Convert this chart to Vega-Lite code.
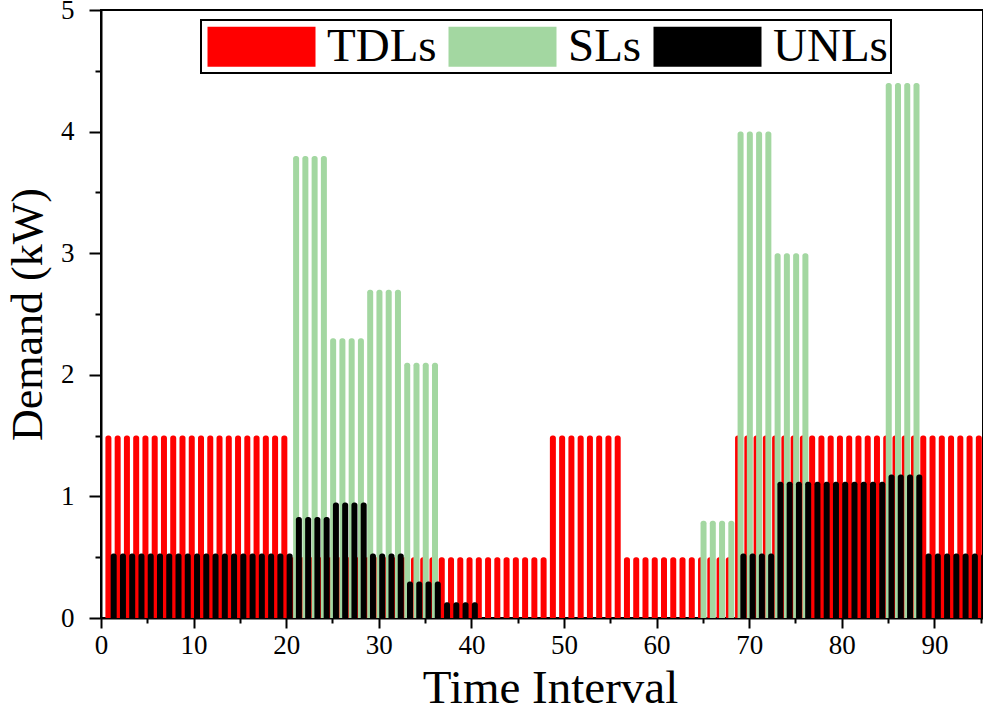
{
  "$schema": "https://vega.github.io/schema/vega-lite/v6.json",
  "width": 882,
  "height": 608,
  "autosize": {"type": "none"},
  "padding": {"left": 101, "top": 10, "right": 0, "bottom": 94},
  "background": "white",
  "config": {
    "view": {"stroke": "black", "strokeWidth": 2},
    "font": "Liberation Serif",
    "axis": {"grid": false},
    "legend": {"strokeWidth": 2}
  },
  "data": {"values": [
    {"t":1,"TDLs":1.5,"SLs":0,"UNLs":0.53},{"t":2,"TDLs":1.5,"SLs":0,"UNLs":0.53},{"t":3,"TDLs":1.5,"SLs":0,"UNLs":0.53},{"t":4,"TDLs":1.5,"SLs":0,"UNLs":0.53},
    {"t":5,"TDLs":1.5,"SLs":0,"UNLs":0.53},{"t":6,"TDLs":1.5,"SLs":0,"UNLs":0.53},{"t":7,"TDLs":1.5,"SLs":0,"UNLs":0.53},{"t":8,"TDLs":1.5,"SLs":0,"UNLs":0.53},
    {"t":9,"TDLs":1.5,"SLs":0,"UNLs":0.53},{"t":10,"TDLs":1.5,"SLs":0,"UNLs":0.53},{"t":11,"TDLs":1.5,"SLs":0,"UNLs":0.53},{"t":12,"TDLs":1.5,"SLs":0,"UNLs":0.53},
    {"t":13,"TDLs":1.5,"SLs":0,"UNLs":0.53},{"t":14,"TDLs":1.5,"SLs":0,"UNLs":0.53},{"t":15,"TDLs":1.5,"SLs":0,"UNLs":0.53},{"t":16,"TDLs":1.5,"SLs":0,"UNLs":0.53},
    {"t":17,"TDLs":1.5,"SLs":0,"UNLs":0.53},{"t":18,"TDLs":1.5,"SLs":0,"UNLs":0.53},{"t":19,"TDLs":1.5,"SLs":0,"UNLs":0.53},{"t":20,"TDLs":1.5,"SLs":0,"UNLs":0.53},
    {"t":21,"TDLs":0.5,"SLs":3.8,"UNLs":0.83},{"t":22,"TDLs":0.5,"SLs":3.8,"UNLs":0.83},{"t":23,"TDLs":0.5,"SLs":3.8,"UNLs":0.83},{"t":24,"TDLs":0.5,"SLs":3.8,"UNLs":0.83},
    {"t":25,"TDLs":0.5,"SLs":2.3,"UNLs":0.95},{"t":26,"TDLs":0.5,"SLs":2.3,"UNLs":0.95},{"t":27,"TDLs":0.5,"SLs":2.3,"UNLs":0.95},{"t":28,"TDLs":0.5,"SLs":2.3,"UNLs":0.95},
    {"t":29,"TDLs":0.5,"SLs":2.7,"UNLs":0.53},{"t":30,"TDLs":0.5,"SLs":2.7,"UNLs":0.53},{"t":31,"TDLs":0.5,"SLs":2.7,"UNLs":0.53},{"t":32,"TDLs":0.5,"SLs":2.7,"UNLs":0.53},
    {"t":33,"TDLs":0.5,"SLs":2.1,"UNLs":0.3},{"t":34,"TDLs":0.5,"SLs":2.1,"UNLs":0.3},{"t":35,"TDLs":0.5,"SLs":2.1,"UNLs":0.3},{"t":36,"TDLs":0.5,"SLs":2.1,"UNLs":0.3},
    {"t":37,"TDLs":0.5,"SLs":0,"UNLs":0.13},{"t":38,"TDLs":0.5,"SLs":0,"UNLs":0.13},{"t":39,"TDLs":0.5,"SLs":0,"UNLs":0.13},{"t":40,"TDLs":0.5,"SLs":0,"UNLs":0.13},
    {"t":41,"TDLs":0.5,"SLs":0,"UNLs":0},{"t":42,"TDLs":0.5,"SLs":0,"UNLs":0},{"t":43,"TDLs":0.5,"SLs":0,"UNLs":0},{"t":44,"TDLs":0.5,"SLs":0,"UNLs":0},
    {"t":45,"TDLs":0.5,"SLs":0,"UNLs":0},{"t":46,"TDLs":0.5,"SLs":0,"UNLs":0},{"t":47,"TDLs":0.5,"SLs":0,"UNLs":0},{"t":48,"TDLs":0.5,"SLs":0,"UNLs":0},
    {"t":49,"TDLs":1.5,"SLs":0,"UNLs":0},{"t":50,"TDLs":1.5,"SLs":0,"UNLs":0},{"t":51,"TDLs":1.5,"SLs":0,"UNLs":0},{"t":52,"TDLs":1.5,"SLs":0,"UNLs":0},
    {"t":53,"TDLs":1.5,"SLs":0,"UNLs":0},{"t":54,"TDLs":1.5,"SLs":0,"UNLs":0},{"t":55,"TDLs":1.5,"SLs":0,"UNLs":0},{"t":56,"TDLs":1.5,"SLs":0,"UNLs":0},
    {"t":57,"TDLs":0.5,"SLs":0,"UNLs":0},{"t":58,"TDLs":0.5,"SLs":0,"UNLs":0},{"t":59,"TDLs":0.5,"SLs":0,"UNLs":0},{"t":60,"TDLs":0.5,"SLs":0,"UNLs":0},
    {"t":61,"TDLs":0.5,"SLs":0,"UNLs":0},{"t":62,"TDLs":0.5,"SLs":0,"UNLs":0},{"t":63,"TDLs":0.5,"SLs":0,"UNLs":0},{"t":64,"TDLs":0.5,"SLs":0,"UNLs":0},
    {"t":65,"TDLs":0.5,"SLs":0.8,"UNLs":0},{"t":66,"TDLs":0.5,"SLs":0.8,"UNLs":0},{"t":67,"TDLs":0.5,"SLs":0.8,"UNLs":0},{"t":68,"TDLs":0.5,"SLs":0.8,"UNLs":0},
    {"t":69,"TDLs":1.5,"SLs":4.0,"UNLs":0.53},{"t":70,"TDLs":1.5,"SLs":4.0,"UNLs":0.53},{"t":71,"TDLs":1.5,"SLs":4.0,"UNLs":0.53},{"t":72,"TDLs":1.5,"SLs":4.0,"UNLs":0.53},
    {"t":73,"TDLs":1.5,"SLs":3.0,"UNLs":1.12},{"t":74,"TDLs":1.5,"SLs":3.0,"UNLs":1.12},{"t":75,"TDLs":1.5,"SLs":3.0,"UNLs":1.12},{"t":76,"TDLs":1.5,"SLs":3.0,"UNLs":1.12},
    {"t":77,"TDLs":1.5,"SLs":0,"UNLs":1.12},{"t":78,"TDLs":1.5,"SLs":0,"UNLs":1.12},{"t":79,"TDLs":1.5,"SLs":0,"UNLs":1.12},{"t":80,"TDLs":1.5,"SLs":0,"UNLs":1.12},
    {"t":81,"TDLs":1.5,"SLs":0,"UNLs":1.12},{"t":82,"TDLs":1.5,"SLs":0,"UNLs":1.12},{"t":83,"TDLs":1.5,"SLs":0,"UNLs":1.12},{"t":84,"TDLs":1.5,"SLs":0,"UNLs":1.12},
    {"t":85,"TDLs":1.5,"SLs":4.4,"UNLs":1.18},{"t":86,"TDLs":1.5,"SLs":4.4,"UNLs":1.18},{"t":87,"TDLs":1.5,"SLs":4.4,"UNLs":1.18},{"t":88,"TDLs":1.5,"SLs":4.4,"UNLs":1.18},
    {"t":89,"TDLs":1.5,"SLs":0,"UNLs":0.53},{"t":90,"TDLs":1.5,"SLs":0,"UNLs":0.53},{"t":91,"TDLs":1.5,"SLs":0,"UNLs":0.53},{"t":92,"TDLs":1.5,"SLs":0,"UNLs":0.53},
    {"t":93,"TDLs":1.5,"SLs":0,"UNLs":0.53},{"t":94,"TDLs":1.5,"SLs":0,"UNLs":0.53},{"t":95,"TDLs":1.5,"SLs":0,"UNLs":0.53},{"t":96,"TDLs":1.5,"SLs":0,"UNLs":0.53}
  ]},
  "transform": [{"fold": ["TDLs", "SLs", "UNLs"], "as": ["Load", "kW"]}],
  "encoding": {
    "y": {"field": "kW", "type": "quantitative", "stack": null,
      "scale": {"domain": [0, 5], "nice": false, "padding": 0},
      "axis": {
        "title": "Demand (kW)", "titleFont": "Liberation Serif", "titleFontSize": 44, "titleFontWeight": "normal", "titleColor": "black",
        "titleX": -73, "titleY": 304, "titleAngle": -90, "titleAlign": "center", "titleBaseline": "middle",
        "values": [0,0.5,1,1.5,2,2.5,3,3.5,4,4.5,5],
        "labelExpr": "datum.value % 1 === 0 ? format(datum.value, 'd') : ''",
        "labelFont": "Liberation Serif", "labelFontSize": 27, "labelColor": "black", "labelFlush": false, "labelOverlap": false, "labelPadding": 15,
        "domainColor": "black", "domainWidth": 2, "tickColor": "black", "tickWidth": 2,
        "tickSize": {"condition": {"test": "datum.value % 1 === 0", "value": 12}, "value": 6}
      }},
    "color": {"field": "Load", "type": "nominal",
      "scale": {"domain": ["TDLs", "SLs", "UNLs"], "range": ["#FF0000", "#A3D7A1", "#000000"]},
      "legend": {
        "orient": "none", "legendX": 100, "legendY": 10, "direction": "horizontal", "title": null,
        "symbolType": "M-1,-1L4.4,-1L4.4,1L-1,1Z", "symbolSize": 1600, "symbolStrokeWidth": 0, "symbolOpacity": 1,
        "labelFont": "Liberation Serif", "labelFontSize": 47, "labelColor": "black", "labelOffset": 76, "labelLimit": 0,
        "columnPadding": 8, "padding": 3, "strokeColor": "black", "fillColor": "white"
      }}
  },
  "layer": [
    {"transform": [{"filter": "datum.Load === 'TDLs' && datum.kW > 0"}],
     "mark": {"type": "bar", "width": 6, "cornerRadiusTopLeft": 2.5, "cornerRadiusTopRight": 2.5, "clip": true},
     "encoding": {"x": {"field": "t", "type": "quantitative", "scale": {"domain": [0.2, 95.45], "nice": false, "zero": false, "padding": 0}, "axis": null}}},
    {"transform": [{"filter": "datum.Load === 'SLs' && datum.kW > 0"}],
     "mark": {"type": "bar", "width": 6, "cornerRadiusTopLeft": 2.5, "cornerRadiusTopRight": 2.5, "clip": true},
     "encoding": {"x": {"field": "t", "type": "quantitative", "scale": {"domain": [-0.07, 95.18], "nice": false, "zero": false, "padding": 0}, "axis": null}}},
    {"transform": [{"filter": "datum.Load === 'UNLs' && datum.kW > 0"}],
     "mark": {"type": "bar", "width": 6, "cornerRadiusTopLeft": 2.5, "cornerRadiusTopRight": 2.5, "clip": true},
     "encoding": {"x": {"field": "t", "type": "quantitative", "scale": {"domain": [-0.37, 94.88], "nice": false, "zero": false, "padding": 0}, "axis": null}}},
    {"transform": [{"filter": "datum.Load === 'TDLs'"}],
     "mark": {"type": "tick", "opacity": 0},
     "encoding": {
       "color": {"value": "white"},
       "x": {"field": "t", "type": "quantitative",
        "scale": {"domain": [0, 95.25], "nice": false, "zero": false, "padding": 0},
        "axis": {
          "title": "Time Interval", "titleFont": "Liberation Serif", "titleFontSize": 47, "titleFontWeight": "normal", "titleColor": "black",
          "titleX": 449, "titleY": 84, "titleAlign": "center", "titleBaseline": "alphabetic",
          "values": [0,5,10,15,20,25,30,35,40,45,50,55,60,65,70,75,80,85,90,95],
          "labelExpr": "datum.value % 10 === 0 ? format(datum.value, 'd') : ''",
          "labelFont": "Liberation Serif", "labelFontSize": 27, "labelColor": "black", "labelFlush": false, "labelOverlap": false, "labelPadding": 4,
          "domainColor": "black", "domainWidth": 2, "tickColor": "black", "tickWidth": 2,
          "tickSize": {"condition": {"test": "datum.value % 10 === 0", "value": 10}, "value": 5}
        }}}}
  ],
  "resolve": {"scale": {"x": "independent"}, "axis": {"x": "independent"}}
}
